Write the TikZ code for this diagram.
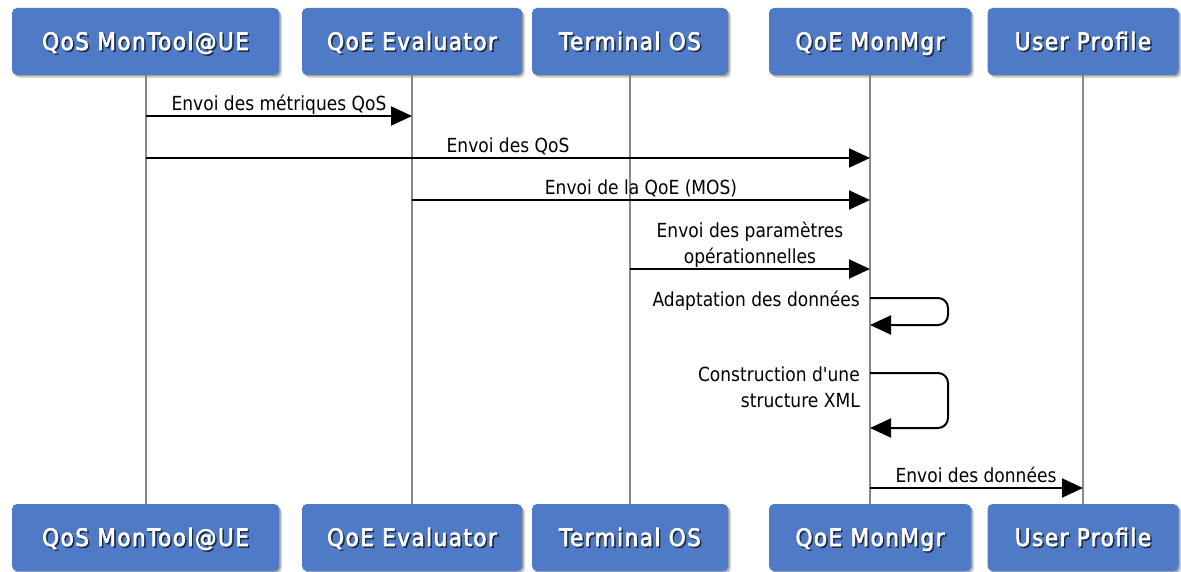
\documentclass[tikz,border=0pt]{standalone}
\usepackage{fontspec}
\setmainfont{DejaVu Sans}
\newfontfamily\msgfont[FakeStretch=0.88]{DejaVu Sans}
\newfontfamily\boxfont[FakeStretch=0.9, FakeBold=2.6, LetterSpace=6]{DejaVu Sans}
\usetikzlibrary{arrows.meta,shadows}
\definecolor{boxblue}{RGB}{79,122,198}
\definecolor{lifegray}{RGB}{136,136,136}
\definecolor{txtshadow}{RGB}{30,42,72}
\newcommand{\shtxt}[1]{\rlap{\kern1.5pt\raisebox{-1.5pt}{\textcolor{txtshadow}{#1}}}#1}
\tikzset{
  actor/.style={rectangle, rounded corners=5pt, fill=boxblue, minimum height=67pt,
    inner sep=0pt, text=white, font=\boxfont\fontsize{24}{28}\selectfont,
    text height=17pt, text depth=0pt,
    drop shadow={shadow xshift=3pt, shadow yshift=-3pt, opacity=0.15, fill=black},
    drop shadow={shadow xshift=1.5pt, shadow yshift=-1.5pt, opacity=0.25, fill=black}},
  lifeline/.style={draw=lifegray, line width=2pt},
  msg/.style={draw=black, line width=2pt, -{Triangle[length=21pt,width=19pt]}},
  lbl/.style={inner sep=0pt, font=\msgfont\fontsize{19.4}{26}\selectfont, text depth=4.6pt},
}
\begin{document}
\begin{tikzpicture}[x=1pt,y=-1pt]
\useasboundingbox (0,0) rectangle (1181,572);
% top boxes
\node[actor, minimum width=267pt] (a-top) at (145.5,41.5) {\shtxt{QoS MonTool@UE}};
\node[actor, minimum width=220pt] (b-top) at (412,41.5) {\shtxt{QoE Evaluator}};
\node[actor, minimum width=196pt] (c-top) at (630,41.5) {\shtxt{Terminal OS}};
\node[actor, minimum width=202pt] (d-top) at (870,41.5) {\shtxt{QoE MonMgr}};
\node[actor, minimum width=191pt] (e-top) at (1083,41.5) {\shtxt{User Profile}};
% bottom boxes
\node[actor, minimum width=267pt] (a-bot) at (145.5,537.5) {\shtxt{QoS MonTool@UE}};
\node[actor, minimum width=220pt] (b-bot) at (412,537.5) {\shtxt{QoE Evaluator}};
\node[actor, minimum width=196pt] (c-bot) at (630,537.5) {\shtxt{Terminal OS}};
\node[actor, minimum width=202pt] (d-bot) at (870,537.5) {\shtxt{QoE MonMgr}};
\node[actor, minimum width=191pt] (e-bot) at (1083,537.5) {\shtxt{User Profile}};
% lifelines
\foreach \n in {a,b,c,d,e}{\draw[lifeline] (\n-top.south) -- (\n-bot.north);}
% messages
\draw[msg] (a-top.south |- 0,116) -- (b-top.south |- 0,116);
\node[lbl, anchor=south] (l1) at (279,115.5) {Envoi des métriques QoS};
\draw[msg] (a-top.south |- 0,158) -- (d-top.south |- 0,158);
\node[lbl, anchor=south] (l2) at (508,157.5) {Envoi des QoS};
\draw[msg] (b-top.south |- 0,200) -- (d-top.south |- 0,200);
\node[lbl, anchor=south] (l3) at (641,199.5) {Envoi de la QoE (MOS)};
\draw[msg] (c-top.south |- 0,269) -- (d-top.south |- 0,269);
\node[lbl, anchor=south, align=center] (l4) at (750,268) {Envoi des paramètres\\opérationnelles};
% self messages
\draw[msg, rounded corners=10pt] (d-top.south |- 0,298) -- (948,298) -- (948,325) -- (d-top.south |- 0,325);
\node[lbl, anchor=north east, text depth=0pt] (l5) at (860,291) {Adaptation des données};
\draw[msg, rounded corners=10pt] (d-top.south |- 0,373) -- (948,373) -- (948,428) -- (d-top.south |- 0,428);
\node[lbl, anchor=north east, align=right, text depth=0pt] (l6) at (860,367) {Construction d'une\\structure XML};
% to user profile
\draw[msg] (d-top.south |- 0,488) -- (e-top.south |- 0,488);
\node[lbl, anchor=south] (l7) at (976,487.5) {Envoi des données};
\end{tikzpicture}
\end{document}
